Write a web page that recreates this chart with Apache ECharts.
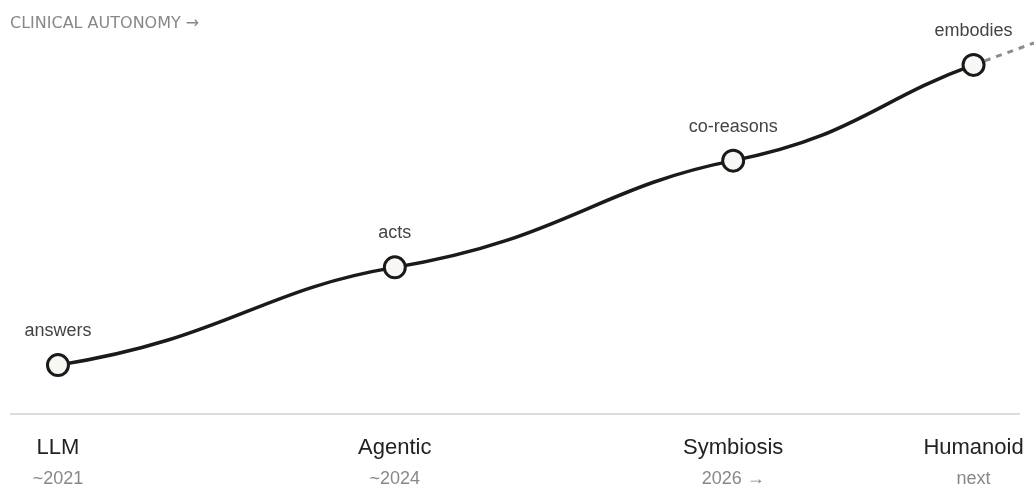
<!DOCTYPE html>
<html>
<head>
<meta charset="utf-8">
<script src="https://cdn.jsdelivr.net/npm/echarts@6/dist/echarts.min.js"></script>
<style>
html,body{margin:0;padding:0;background:#ffffff;}
#chart{width:1034px;height:488px;}
</style>
</head>
<body>
<div id="chart"></div>
<script>
// Stage positions along the timeline (0-100 scale) and clinical autonomy level (0-100 scale)
const stageNames = ['LLM', 'Agentic', 'Symbiosis', 'Humanoid'];
const stageYears = ['~2021', '~2024', '2026 →', 'next'];
const stageX = [4.75, 38.1, 71.6, 95.4];
const autonomy = [12.25, 36.75, 63.5, 87.5];
const pointLabels = ['answers', 'acts', 'co-reasons', 'embodies'];
// Dashed continuation beyond the last stage
const futureX = [95.4, 101.4];
const futureY = [87.5, 93];
// Baseline extent along the timeline
const baseX = [0, 100];

const FONT = '"Liberation Sans", Arial, sans-serif';
const FLAT = 0.55; // tangent flattening at each stage node (curve style)

function renderCurve(params, api) {
  if (params.dataIndex !== 0) return null;
  const pts = stageX.map((x, i) => api.coord([x, autonomy[i]]));
  const f0 = api.coord([futureX[0], futureY[0]]);
  const f1 = api.coord([futureX[1], futureY[1]]);
  const futureSlope = (f1[1] - f0[1]) / (f1[0] - f0[0]);
  const n = pts.length;
  const chord = [];
  for (let i = 0; i < n - 1; i++) {
    chord.push((pts[i + 1][1] - pts[i][1]) / (pts[i + 1][0] - pts[i][0]));
  }
  const tan = pts.map((p, i) => {
    if (i === n - 1) return futureSlope;
    const s = i === 0 ? chord[0] : (chord[i - 1] + chord[i]) / 2;
    return s * FLAT;
  });
  const children = [];
  for (let i = 0; i < n - 1; i++) {
    const p0 = pts[i], p1 = pts[i + 1];
    const h = (p1[0] - p0[0]) / 2;
    children.push({
      type: 'bezierCurve',
      shape: {
        x1: p0[0], y1: p0[1], x2: p1[0], y2: p1[1],
        cpx1: p0[0] + h, cpy1: p0[1] + tan[i] * h,
        cpx2: p1[0] - h * 0.8, cpy2: p1[1] - tan[i + 1] * h * 0.8
      },
      style: {stroke: '#1a1a1a', lineWidth: 3.5, fill: null, lineCap: 'round'}
    });
  }
  return {type: 'group', children: children};
}

const chart = echarts.init(document.getElementById('chart'), null, {renderer: 'canvas'});
chart.setOption({
  animation: false,
  backgroundColor: '#ffffff',
  title: {
    text: 'CLINICAL AUTONOMY →',
    left: 10,
    top: 16,
    padding: 0,
    textStyle: {color: '#888888', fontSize: 16, fontWeight: 'normal', fontFamily: '"DejaVu Sans", sans-serif'}
  },
  grid: {left: 10, right: 0, top: 15, bottom: 73},
  xAxis: {
    type: 'value',
    min: 0,
    max: 101.386,
    axisLine: {show: false},
    axisTick: {show: false},
    splitLine: {show: false},
    axisLabel: {
      show: true,
      customValues: stageX,
      margin: 19,
      hideOverlap: false,
      formatter: function (v) {
        const i = stageX.indexOf(v);
        if (i < 0) return '';
        return '{a|' + stageNames[i] + '}\n{b|' + stageYears[i] + '}';
      },
      rich: {
        a: {fontSize: 22, lineHeight: 30, color: '#222222', fontFamily: FONT, align: 'center'},
        b: {fontSize: 18, lineHeight: 32, color: '#888888', fontFamily: FONT, align: 'center'}
      }
    }
  },
  yAxis: {type: 'value', min: 0, max: 100, show: false},
  series: [
    {
      type: 'line',
      data: futureX.map((x, i) => [x, futureY[i]]),
      symbol: 'none',
      clip: false,
      z: 1,
      lineStyle: {color: '#8c8c8c', width: 3, type: [6, 6]},
      silent: true,
      markLine: {
        silent: true,
        symbol: 'none',
        label: {show: false},
        lineStyle: {color: '#d2d2d2', width: 1.5, type: 'solid'},
        data: [[{coord: [baseX[0], 0]}, {coord: [baseX[1], 0]}]]
      }
    },
    {
      type: 'custom',
      coordinateSystem: 'cartesian2d',
      data: [[stageX[0], autonomy[0]]],
      renderItem: renderCurve,
      clip: false,
      silent: true,
      z: 2
    },
    {
      type: 'line',
      data: stageX.map((x, i) => [x, autonomy[i]]),
      symbol: 'circle',
      symbolSize: 21,
      showAllSymbol: true,
      clip: false,
      z: 3,
      lineStyle: {width: 0, opacity: 0},
      itemStyle: {color: '#f8f7f4', borderColor: '#1a1a1a', borderWidth: 3},
      label: {
        show: true,
        position: 'top',
        distance: 13,
        color: '#444444',
        fontSize: 18,
        fontFamily: FONT,
        formatter: function (p) { return pointLabels[p.dataIndex]; }
      }
    }
  ]
});
</script>
</body>
</html>
